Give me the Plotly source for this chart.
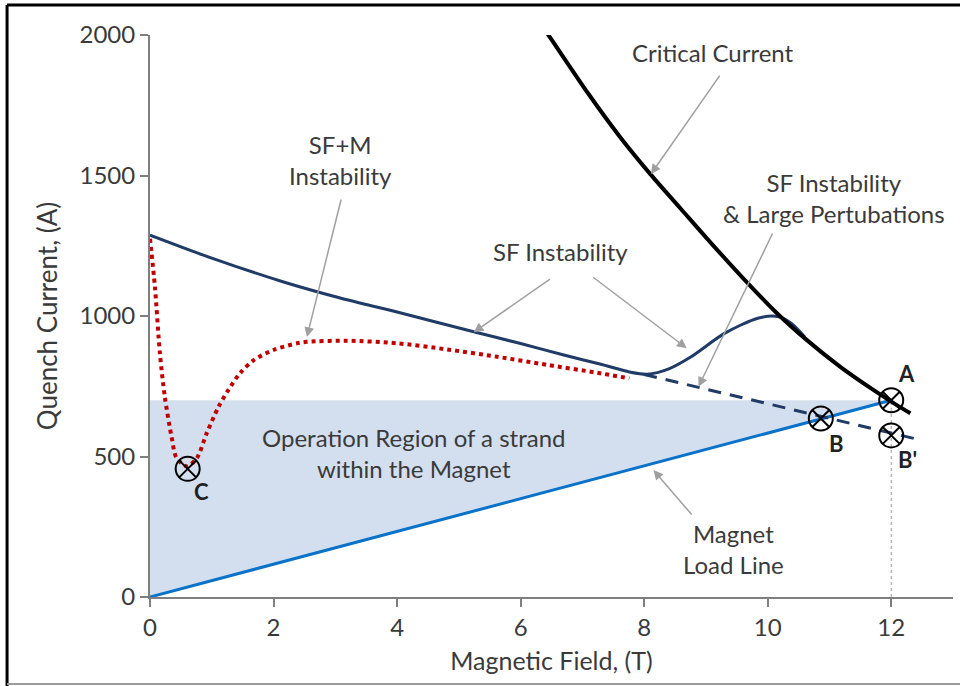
import plotly.graph_objects as go

# ---------------- data ----------------
crit_x = [6.40, 6.45, 7.10, 7.60, 8.10, 8.60, 9.00, 9.60, 10.15, 10.63, 11.17, 11.71, 12.09, 12.31]
crit_y = [2015, 2000, 1790, 1640, 1505, 1380, 1280, 1135, 1010, 915, 820, 737, 683, 654]

sf_x = [0.0, 1.0, 2.15, 3.08, 4.0, 5.24, 6.0, 6.7, 7.3, 7.78, 8.05, 8.4, 8.76, 9.3, 9.84, 10.16, 10.38, 10.6]
sf_y = [1288, 1206, 1122, 1064, 1014, 944, 902, 861, 828, 800, 793, 812, 855, 938, 992, 998, 974, 925]

sf_ext_x = [8.0, 12.45]
sf_ext_y = [792, 560]

sfm_x = [0.0, 0.08, 0.16, 0.24, 0.35, 0.43, 0.60, 0.76, 0.92, 1.11, 1.27, 1.46, 1.68, 2.0, 2.38,
         2.54, 3.19, 4.0, 4.81, 5.62, 6.43, 7.24, 7.76]
sfm_y = [1275, 1103, 868, 712, 569, 495, 465, 495, 584, 677, 737, 797, 843, 879, 903,
         908, 912, 903, 881, 855, 826, 798, 778]

load_x = [0, 12]
load_y = [0, 700]

region_x = [0, 0, 12, 0]
region_y = [0, 700, 700, 0]

pt_names = ["A", "B", "B'", "C"]
pt_x = [12.0, 10.86, 12.0, 0.61]
pt_y = [700, 635, 575, 456]
lbl_x = [12.24, 11.12, 12.27, 0.84]
lbl_y = [795, 548, 489, 375]

x_ticks = [0, 2, 4, 6, 8, 10, 12]
y_ticks = [0, 500, 1000, 1500, 2000]

FONT = "Lato, 'Open Sans', sans-serif"
TXT = "#3a3a3a"
ARROW = "#a0a0a0"

fig = go.Figure()

# operation region
fig.add_trace(go.Scatter(x=region_x, y=region_y, fill="toself", fillcolor="#d3dfee",
                         line=dict(width=0), mode="lines", hoverinfo="skip", showlegend=False))
# dotted vertical at 12 T
fig.add_trace(go.Scatter(x=[12, 12], y=[0, 700], mode="lines",
                         line=dict(color="#9a9a9a", width=1, dash="dot"), showlegend=False))
# load line
fig.add_trace(go.Scatter(x=load_x, y=load_y, mode="lines",
                         line=dict(color="#0a72c8", width=3), showlegend=False))
# SF extension dashed
fig.add_trace(go.Scatter(x=sf_ext_x, y=sf_ext_y, mode="lines",
                         line=dict(color="#1f3b66", width=3, dash="13px,9px"), showlegend=False))
# SF+M dotted red
fig.add_trace(go.Scatter(x=sfm_x, y=sfm_y, mode="lines",
                         line=dict(color="#c00000", width=4, dash="dot", shape="spline", smoothing=0.8),
                         showlegend=False))
# SF instability solid
fig.add_trace(go.Scatter(x=sf_x, y=sf_y, mode="lines",
                         line=dict(color="#1f3b66", width=3, shape="spline", smoothing=0.8),
                         showlegend=False))
# critical current
fig.add_trace(go.Scatter(x=crit_x, y=crit_y, mode="lines",
                         line=dict(color="black", width=4, shape="spline", smoothing=0.8),
                         showlegend=False))
# points
fig.add_trace(go.Scatter(x=pt_x, y=pt_y, mode="markers",
                         marker=dict(symbol="circle-x-open", size=24, color="black",
                                     line=dict(width=2, color="black")),
                         showlegend=False, cliponaxis=False))

annotations = []
for n, x, y in zip(pt_names, lbl_x, lbl_y):
    annotations.append(dict(x=x, y=y, text="<b>" + n + "</b>", showarrow=False,
                            font=dict(family=FONT, size=22, color="#222"),
                            xanchor="center", yanchor="middle"))

texts = [
    ("Critical Current", 9.11, 1936),
    ("SF+M<br>Instability", 3.08, 1555),
    ("SF Instability", 6.64, 1228),
    ("SF Instability<br>&amp; Large Pertubations", 11.07, 1420),
    ("Operation Region of a strand<br>within the Magnet", 4.26, 512),
    ("Magnet<br>Load Line", 9.44, 171),
]
for t, x, y in texts:
    annotations.append(dict(x=x, y=y, text=t, showarrow=False,
                            font=dict(family=FONT, size=24, color=TXT),
                            xanchor="center", yanchor="middle"))

arrows = [
    ((9.24, 1861), (8.11, 1505)),
    ((3.10, 1420), (2.54, 925)),
    ((6.50, 1135), (5.24, 942)),
    ((7.15, 1142), (8.69, 885)),
    ((10.09, 1299), (8.88, 748)),
    ((8.79, 288), (8.15, 452)),
]
for (tx, ty), (hx, hy) in arrows:
    annotations.append(dict(x=hx, y=hy, ax=tx, ay=ty, axref="x", ayref="y", xref="x", yref="y",
                            text="", showarrow=True, arrowhead=2, arrowsize=1.3,
                            arrowwidth=1.5, arrowcolor=ARROW))

# figure frame (plot area: x 150..953 px, y 35..597 px)
shapes = [
    dict(type="line", xref="paper", yref="paper", x0=-0.178, x1=1.01, y0=1.0534, y1=1.0534,
         line=dict(color="black", width=3)),
    dict(type="line", xref="paper", yref="paper", x0=-0.178, x1=-0.178, y0=-0.16, y1=1.0534,
         line=dict(color="black", width=3)),
    dict(type="line", xref="paper", yref="paper", x0=-0.178, x1=1.01, y0=-0.1548, y1=-0.1548,
         line=dict(color="#9a9a9a", width=2)),
]

fig.update_layout(
    width=960, height=686,
    margin=dict(l=150, r=7, t=35, b=89),
    paper_bgcolor="white", plot_bgcolor="white",
    font=dict(family=FONT, color=TXT),
    annotations=annotations, shapes=shapes,
    showlegend=False,
)
fig.update_xaxes(range=[0, 13], tickvals=x_ticks, showgrid=False, zeroline=False,
                 showline=True, linecolor="#7f7f7f", linewidth=2,
                 ticks="outside", ticklen=8, tickwidth=2, tickcolor="#7f7f7f",
                 tickfont=dict(family=FONT, size=24, color=TXT),
                 title=dict(text="Magnetic Field, (T)", font=dict(family=FONT, size=25, color=TXT),
                            standoff=13))
fig.update_yaxes(range=[0, 2000], tickvals=y_ticks, showgrid=False, zeroline=False,
                 showline=True, linecolor="#7f7f7f", linewidth=2,
                 ticks="outside", ticklen=8, tickwidth=2, tickcolor="#7f7f7f",
                 tickfont=dict(family=FONT, size=24, color=TXT),
                 title=dict(text="Quench Current, (A)", font=dict(family=FONT, size=26, color=TXT),
                            standoff=14))

fig.write_html("out.html", config={"displayModeBar": False},
               post_script="document.body.style.margin='0';document.body.style.overflow='hidden';")
